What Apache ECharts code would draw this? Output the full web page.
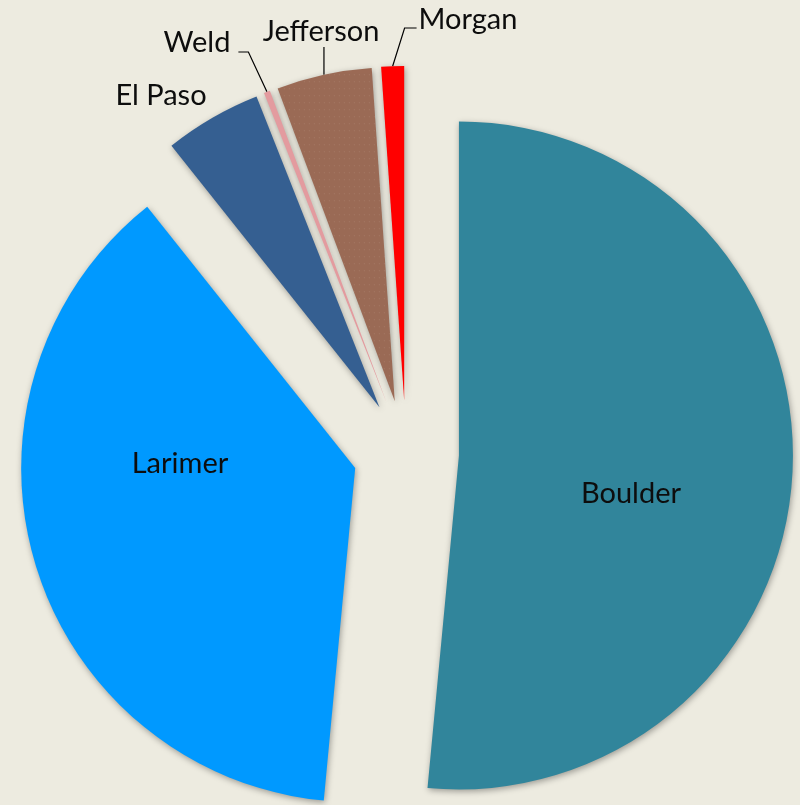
<!DOCTYPE html>
<html>
<head>
<meta charset="utf-8">
<script src="https://cdn.jsdelivr.net/npm/echarts@6/dist/echarts.min.js"></script>
<style>
html,body{margin:0;padding:0;background:#EDEBE0;}
#chart{width:800px;height:805px;}
</style>
</head>
<body>
<div id="chart"></div>
<script>
// Data
const categories = ['Boulder', 'Larimer', 'El Paso', 'Weld', 'Jefferson', 'Morgan'];
const values = [51.5, 37.8, 4.7, 0.3, 4.6, 1.1];

// Styling
const colors = ['#31859B', '#0099FF', '#355F91', '#E39B9F', '#9B6A55', '#FF0000'];
const labelPos = [[631, 494], [180, 464], [161, 96], [197, 43], [321, 32], [468, 20]];
const leaderStyle = ['none', 'none', 'none', 'right', 'below', 'left'];
const BG = '#EDEBE0';
const EXPLODE = 53;

const total = values.reduce((a, b) => a + b, 0);
const midAngles = [];
let acc = 0;
values.forEach(v => {
  midAngles.push((acc + v / 2) / total * 2 * Math.PI);
  acc += v;
});

const chart = echarts.init(document.getElementById('chart'), null, {renderer: 'canvas'});

const seriesData = categories.map((name, i) => {
  const item = {
    name: name,
    value: values[i],
    selected: true,
    itemStyle: {color: colors[i]},
    label: {position: i < 2 ? 'inside' : 'outside'},
    labelLine: {show: leaderStyle[i] !== 'none'}
  };
  if (name === 'Jefferson') {
    item.itemStyle.decal = {
      symbol: 'rect',
      symbolSize: 0.6,
      color: 'rgba(245,222,210,0.5)',
      dashArrayX: [1, 4],
      dashArrayY: [1, 6],
      rotation: 0
    };
  }
  return item;
});

chart.setOption({
  backgroundColor: BG,
  animation: false,
  series: [{
    type: 'pie',
    center: [406, 453],
    radius: [0, 334],
    startAngle: 90,
    clockwise: true,
    selectedMode: 'multiple',
    selectedOffset: EXPLODE,
    avoidLabelOverlap: false,
    emphasis: {disabled: true},
    itemStyle: {
      shadowBlur: 6,
      shadowColor: 'rgba(0,0,0,0.35)',
      shadowOffsetX: 1,
      shadowOffsetY: 2
    },
    label: {
      show: true,
      formatter: '{b}',
      color: '#0d0d0d',
      fontFamily: 'Lato',
      fontSize: 29
    },
    labelLine: {
      length: 10,
      length2: 10,
      lineStyle: {color: '#000000', width: 1.2}
    },
    labelLayout: function (params) {
      const i = params.dataIndex;
      const lr = params.labelRect;
      const a = midAngles[i];
      const ox = EXPLODE * Math.sin(a);
      const oy = -EXPLODE * Math.cos(a);
      const p = labelPos[i];
      const cx = lr.x + lr.width / 2;
      const cy = lr.y + lr.height / 2;
      const res = {dx: p[0] - cx - ox, dy: p[1] - cy - oy};
      const pts = params.labelLinePoints;
      if (leaderStyle[i] !== 'none' && pts && pts.length) {
        const p0 = pts[0];
        let p1, p2;
        if (leaderStyle[i] === 'right') {
          p2 = [p[0] + lr.width / 2 + 8, p[1] + 9];
          p1 = [p2[0] + 10, p2[1]];
        } else if (leaderStyle[i] === 'left') {
          p2 = [p[0] - lr.width / 2 - 2, p[1] + 8];
          p1 = [p2[0] - 12, p2[1]];
        } else {
          p2 = [p0[0] + ox, p[1] + 15];
          p1 = [p2[0], p2[1] + 1];
        }
        res.labelLinePoints = [
          [p0[0], p0[1]],
          [p1[0] - ox, p1[1] - oy],
          [p2[0] - ox, p2[1] - oy]
        ];
      }
      return res;
    },
    data: seriesData
  }]
});
</script>
</body>
</html>
